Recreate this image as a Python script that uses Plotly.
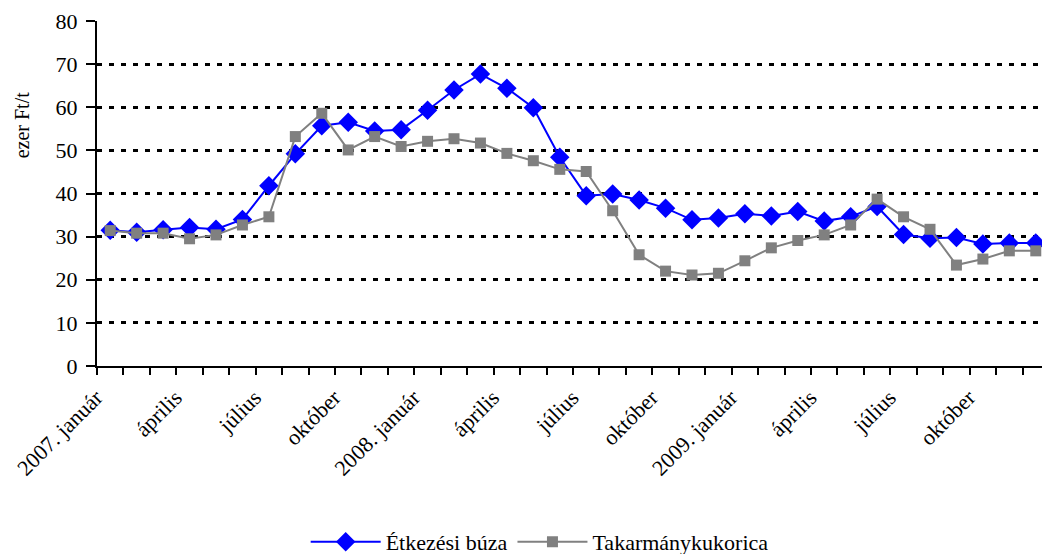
import plotly.graph_objects as go

# havi átlagárak, 2007. január - 2009. december (ezer Ft/t)
months = [
    "2007. január", "február", "március", "április", "május", "június",
    "július", "augusztus", "szeptember", "október", "november", "december",
    "2008. január", "február", "március", "április", "május", "június",
    "július", "augusztus", "szeptember", "október", "november", "december",
    "2009. január", "február", "március", "április", "május", "június",
    "július", "augusztus", "szeptember", "október", "november", "december",
]
buza = [
    31.5, 31.0, 31.6, 32.1, 31.7, 34.0, 41.8, 49.2, 55.7, 56.5, 54.5, 54.8,
    59.3, 64.0, 67.7, 64.4, 59.9, 48.4, 39.5, 39.9, 38.5, 36.6, 33.9, 34.3,
    35.3, 34.8, 35.8, 33.6, 34.6, 37.0, 30.5, 29.6, 29.8, 28.3, 28.5, 28.5,
]
kukorica = [
    31.4, 30.8, 30.8, 29.5, 30.4, 32.7, 34.6, 53.2, 58.6, 50.1, 53.2, 50.9,
    52.1, 52.7, 51.7, 49.3, 47.6, 45.6, 45.1, 36.0, 25.8, 22.0, 21.1, 21.5,
    24.4, 27.4, 29.1, 30.4, 32.7, 38.7, 34.6, 31.7, 23.4, 24.8, 26.7, 26.7,
]

idx = list(range(len(months)))
label_pos = idx[::3]
label_txt = [months[i] for i in label_pos]

font = "Liberation Serif, serif"

fig = go.Figure()
fig.add_trace(go.Scatter(
    x=idx, y=buza, mode="lines+markers", name="Étkezési búza",
    line=dict(color="#0000ff", width=2),
    marker=dict(symbol="diamond", size=15, color="#0000ff"),
))
fig.add_trace(go.Scatter(
    x=idx, y=kukorica, mode="lines+markers", name="Takarmánykukorica",
    line=dict(color="#808080", width=2),
    marker=dict(symbol="square", size=11, color="#808080"),
))

# the page body adds an 8px offset, so the figure is 8px smaller
fig.update_layout(
    width=1042, height=546,
    margin=dict(l=89, r=1, t=13, b=188, autoexpand=False),
    paper_bgcolor="white", plot_bgcolor="white",
    font=dict(family=font, size=22, color="black"),
    showlegend=True,
    legend=dict(orientation="h", x=0.465, xanchor="center", y=-0.51, yanchor="middle",
                font=dict(family=font, size=22), itemwidth=70),
)
fig.add_annotation(
    text="ezer Ft/t", textangle=-90, xref="paper", yref="paper",
    x=-0.079, y=0.70, xanchor="center", yanchor="middle", showarrow=False,
    font=dict(family=font, size=20, color="black"),
)
fig.update_xaxes(
    range=[-0.5, 35.5], showgrid=False, zeroline=False, automargin=False,
    showline=True, linecolor="black", linewidth=2,
    tickmode="array", tickvals=label_pos, ticktext=label_txt,
    tickangle=-45, ticks="", tickfont=dict(family=font, size=22),
    ticklabelshift=-14, ticklabelstandoff=8,
    minor=dict(ticks="outside", tick0=-0.5, dtick=1, ticklen=7,
               tickwidth=2, tickcolor="black", showgrid=False),
)
fig.update_yaxes(
    range=[0, 80], dtick=10, zeroline=False, automargin=False,
    showline=True, linecolor="black", linewidth=2,
    ticks="outside", ticklen=9, tickwidth=2, tickcolor="black",
    ticklabelstandoff=4, tickfont=dict(family=font, size=22),
    showgrid=True, gridcolor="black", gridwidth=3, griddash="5px,7px",
)

fig.write_html("out.html")
